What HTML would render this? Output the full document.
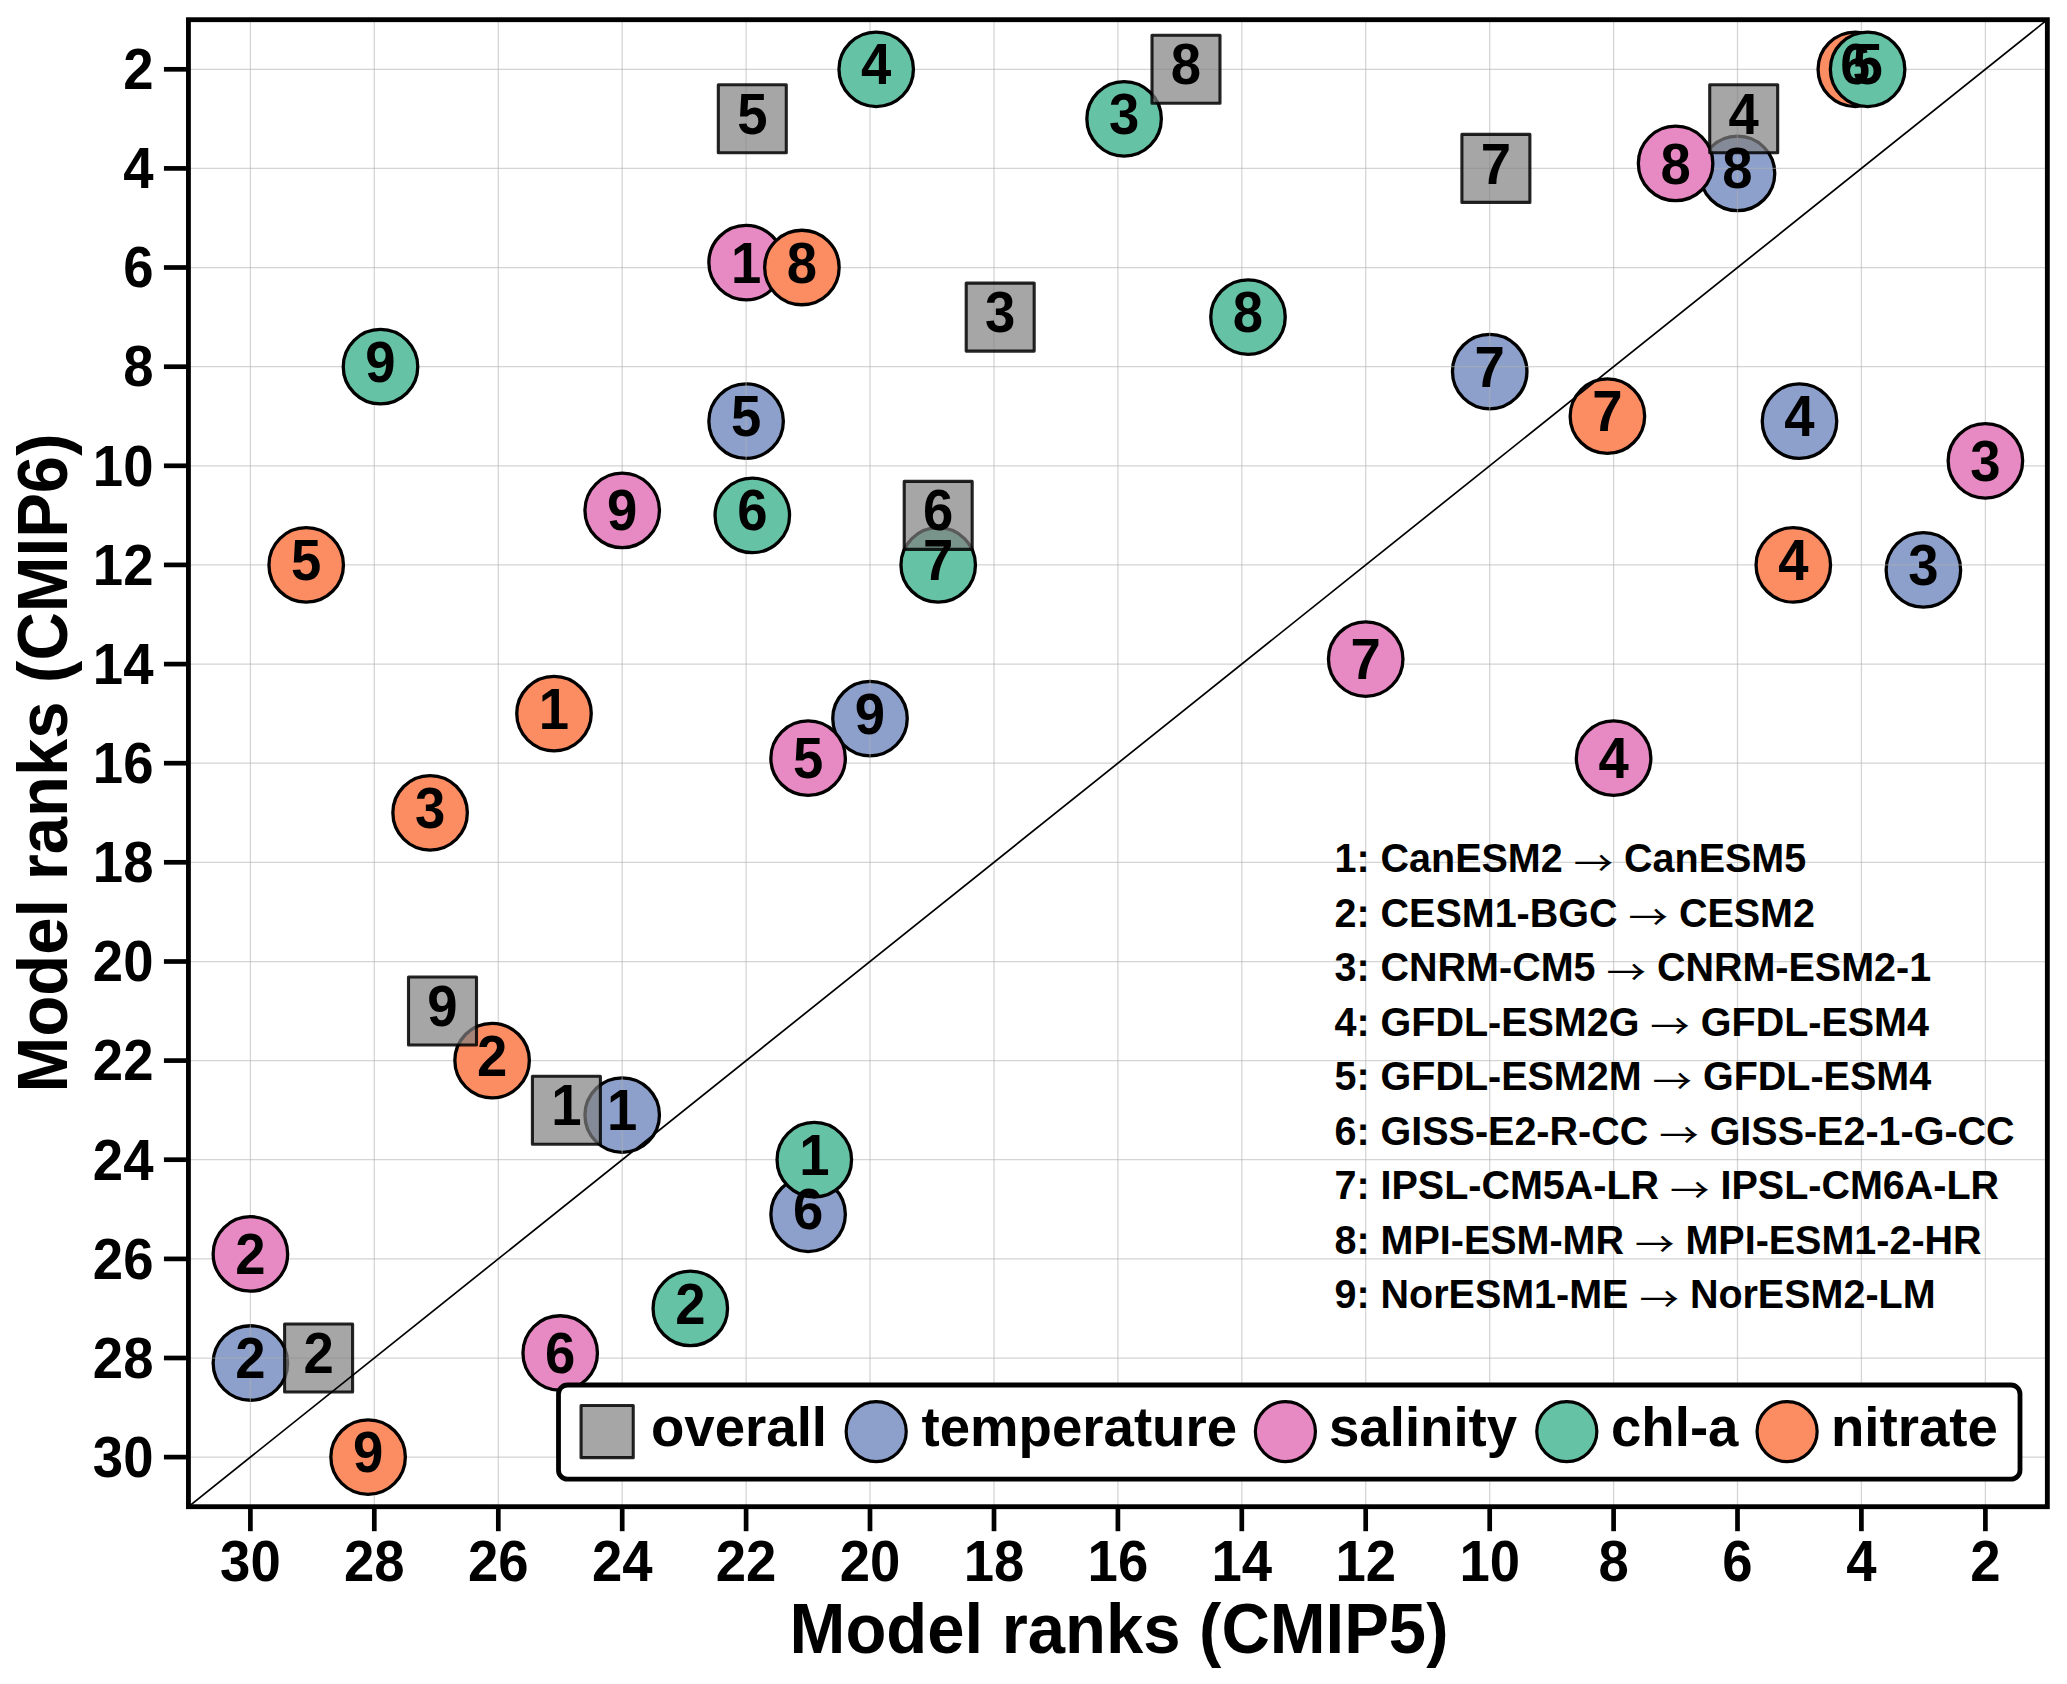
<!DOCTYPE html>
<html lang="en"><head><meta charset="utf-8"><title>Model ranks CMIP5 vs CMIP6</title>
<style>html,body{margin:0;padding:0;background:#fff;overflow:hidden}svg{display:block}text{font-family:"Liberation Sans",sans-serif;font-weight:bold;fill:#000}.m{font-size:54.5px;text-anchor:middle}.t{font-size:54.5px}.ax{font-size:67px;text-anchor:middle}.lg{font-size:54.6px}.ls{font-size:39.5px}.ar{font-family:"Noto Sans CJK SC","Noto Sans CJK JP","Noto Sans CJK TC","Noto Sans CJK KR","DejaVu Sans",sans-serif;font-weight:400;font-size:33px}</style></head><body>
<svg width="2067" height="1684" viewBox="0 0 2067 1684" role="img" aria-label="Model ranks CMIP5 versus CMIP6 scatter plot">
<rect width="2067" height="1684" fill="#fff"/>
<defs><clipPath id="cp"><rect x="188.44" y="19.7" width="1858.9" height="1487"/></clipPath></defs>
<g clip-path="url(#cp)">
<g fill="#8da0cb" stroke="#000" stroke-width="3.3">
<circle cx="1737.5" cy="173.4" r="37.25"/>
<circle cx="1489.7" cy="371.6" r="37.25"/>
<circle cx="1799.5" cy="421.2" r="37.25"/>
<circle cx="746.1" cy="421.2" r="37.25"/>
<circle cx="1923.4" cy="569.9" r="37.25"/>
<circle cx="870.0" cy="718.6" r="37.25"/>
<circle cx="622.2" cy="1115.1" r="37.25"/>
<circle cx="808.1" cy="1214.3" r="37.25"/>
<circle cx="250.4" cy="1363.0" r="37.25"/>
</g>
<g stroke="#b0b0b0" stroke-opacity="0.55" stroke-width="1.25">
<line x1="1985.4" y1="19.7" x2="1985.4" y2="1506.7"/>
<line x1="188.44" y1="69.3" x2="2047.34" y2="69.3"/>
<line x1="1861.4" y1="19.7" x2="1861.4" y2="1506.7"/>
<line x1="188.44" y1="168.4" x2="2047.34" y2="168.4"/>
<line x1="1737.5" y1="19.7" x2="1737.5" y2="1506.7"/>
<line x1="188.44" y1="267.5" x2="2047.34" y2="267.5"/>
<line x1="1613.6" y1="19.7" x2="1613.6" y2="1506.7"/>
<line x1="188.44" y1="366.7" x2="2047.34" y2="366.7"/>
<line x1="1489.7" y1="19.7" x2="1489.7" y2="1506.7"/>
<line x1="188.44" y1="465.8" x2="2047.34" y2="465.8"/>
<line x1="1365.7" y1="19.7" x2="1365.7" y2="1506.7"/>
<line x1="188.44" y1="564.9" x2="2047.34" y2="564.9"/>
<line x1="1241.8" y1="19.7" x2="1241.8" y2="1506.7"/>
<line x1="188.44" y1="664.1" x2="2047.34" y2="664.1"/>
<line x1="1117.9" y1="19.7" x2="1117.9" y2="1506.7"/>
<line x1="188.44" y1="763.2" x2="2047.34" y2="763.2"/>
<line x1="994.0" y1="19.7" x2="994.0" y2="1506.7"/>
<line x1="188.44" y1="862.3" x2="2047.34" y2="862.3"/>
<line x1="870.0" y1="19.7" x2="870.0" y2="1506.7"/>
<line x1="188.44" y1="961.5" x2="2047.34" y2="961.5"/>
<line x1="746.1" y1="19.7" x2="746.1" y2="1506.7"/>
<line x1="188.44" y1="1060.6" x2="2047.34" y2="1060.6"/>
<line x1="622.2" y1="19.7" x2="622.2" y2="1506.7"/>
<line x1="188.44" y1="1159.7" x2="2047.34" y2="1159.7"/>
<line x1="498.3" y1="19.7" x2="498.3" y2="1506.7"/>
<line x1="188.44" y1="1258.9" x2="2047.34" y2="1258.9"/>
<line x1="374.3" y1="19.7" x2="374.3" y2="1506.7"/>
<line x1="188.44" y1="1358.0" x2="2047.34" y2="1358.0"/>
<line x1="250.4" y1="19.7" x2="250.4" y2="1506.7"/>
<line x1="188.44" y1="1457.1" x2="2047.34" y2="1457.1"/>
</g>
<g fill="#e78ac3" stroke="#000" stroke-width="3.3">
<circle cx="1675.6" cy="163.4" r="37.25"/>
<circle cx="746.1" cy="262.6" r="37.25"/>
<circle cx="1985.4" cy="460.8" r="37.25"/>
<circle cx="622.2" cy="510.4" r="37.25"/>
<circle cx="1365.7" cy="659.1" r="37.25"/>
<circle cx="808.1" cy="758.2" r="37.25"/>
<circle cx="1613.6" cy="758.2" r="37.25"/>
<circle cx="250.4" cy="1253.9" r="37.25"/>
<circle cx="560.2" cy="1353.0" r="37.25"/>
</g>
<g fill="#fc8d62" stroke="#000" stroke-width="3.3">
<circle cx="1855.3" cy="69.3" r="37.25"/>
<circle cx="801.9" cy="267.5" r="37.25"/>
<circle cx="1607.4" cy="416.2" r="37.25"/>
<circle cx="306.2" cy="564.9" r="37.25"/>
<circle cx="1793.3" cy="564.9" r="37.25"/>
<circle cx="554.0" cy="713.6" r="37.25"/>
<circle cx="430.1" cy="812.8" r="37.25"/>
<circle cx="492.1" cy="1060.6" r="37.25"/>
<circle cx="368.1" cy="1457.1" r="37.25"/>
</g>
<g fill="#66c2a5" stroke="#000" stroke-width="3.3">
<circle cx="876.2" cy="69.3" r="37.25"/>
<circle cx="1124.1" cy="118.8" r="37.25"/>
<circle cx="1867.6" cy="69.3" r="37.25"/>
<circle cx="1248.0" cy="317.1" r="37.25"/>
<circle cx="380.5" cy="366.7" r="37.25"/>
<circle cx="752.3" cy="515.4" r="37.25"/>
<circle cx="938.2" cy="564.9" r="37.25"/>
<circle cx="814.3" cy="1159.7" r="37.25"/>
<circle cx="690.3" cy="1308.4" r="37.25"/>
</g>
<g fill="#808080" fill-opacity="0.7" stroke="#000" stroke-opacity="0.85" stroke-width="3.1" stroke-linejoin="round">
<rect x="718.3" y="84.8" width="68" height="68"/>
<rect x="1152.0" y="35.3" width="68" height="68"/>
<rect x="1709.7" y="84.8" width="68" height="68"/>
<rect x="1461.9" y="134.4" width="68" height="68"/>
<rect x="966.2" y="283.1" width="68" height="68"/>
<rect x="904.2" y="481.4" width="68" height="68"/>
<rect x="408.5" y="977.0" width="68" height="68"/>
<rect x="532.4" y="1076.2" width="68" height="68"/>
<rect x="284.6" y="1324.0" width="68" height="68"/>
</g>
<line x1="188.44" y1="1506.7" x2="2047.34" y2="19.7" stroke="#000" stroke-width="1.7"/>
<g class="m" transform="scale(1,1.045)">
<text x="1737.5" y="180.34">8</text>
<text x="1489.7" y="370.07">7</text>
<text x="1799.5" y="417.50">4</text>
<text x="746.1" y="417.50">5</text>
<text x="1923.4" y="559.80">3</text>
<text x="870.0" y="702.10">9</text>
<text x="622.2" y="1081.55">1</text>
<text x="808.1" y="1176.42">6</text>
<text x="250.4" y="1318.71">2</text>
</g>
<g class="m" transform="scale(1,1.045)">
<text x="1675.6" y="175.60">8</text>
<text x="746.1" y="270.46">1</text>
<text x="1985.4" y="460.19">3</text>
<text x="622.2" y="507.62">9</text>
<text x="1365.7" y="649.92">7</text>
<text x="808.1" y="744.78">5</text>
<text x="1613.6" y="744.78">4</text>
<text x="250.4" y="1219.11">2</text>
<text x="560.2" y="1313.97">6</text>
</g>
<g class="m" transform="scale(1,1.045)">
<text x="1855.3" y="80.73">6</text>
<text x="801.9" y="270.46">8</text>
<text x="1607.4" y="412.76">7</text>
<text x="306.2" y="555.06">5</text>
<text x="1793.3" y="555.06">4</text>
<text x="554.0" y="697.35">1</text>
<text x="430.1" y="792.22">3</text>
<text x="492.1" y="1029.38">2</text>
<text x="368.1" y="1408.84">9</text>
</g>
<g class="m" transform="scale(1,1.045)">
<text x="876.2" y="80.73">4</text>
<text x="1124.1" y="128.17">3</text>
<text x="1867.6" y="80.73">5</text>
<text x="1248.0" y="317.89">8</text>
<text x="380.5" y="365.33">9</text>
<text x="752.3" y="507.62">6</text>
<text x="938.2" y="555.06">7</text>
<text x="814.3" y="1124.24">1</text>
<text x="690.3" y="1266.54">2</text>
</g>
<g class="m" transform="scale(1,1.045)">
<text x="752.3" y="128.17">5</text>
<text x="1186.0" y="80.73">8</text>
<text x="1743.7" y="128.17">4</text>
<text x="1495.9" y="175.60">7</text>
<text x="1000.2" y="317.89">3</text>
<text x="938.2" y="507.62">6</text>
<text x="442.5" y="981.95">9</text>
<text x="566.4" y="1076.81">1</text>
<text x="318.6" y="1313.97">2</text>
</g>
</g>
<g class="ls" transform="scale(1,1.03)">
<text x="1334.5" y="846.89" xml:space="preserve">1: CanESM2 <tspan class="ar" dy="3.3" textLength="39.5" lengthAdjust="spacingAndGlyphs">→</tspan><tspan dy="-3.3"> CanESM5</tspan></text>
<text x="1334.5" y="899.81" xml:space="preserve">2: CESM1-BGC <tspan class="ar" dy="3.3" textLength="39.5" lengthAdjust="spacingAndGlyphs">→</tspan><tspan dy="-3.3"> CESM2</tspan></text>
<text x="1334.5" y="952.72" xml:space="preserve">3: CNRM-CM5 <tspan class="ar" dy="3.3" textLength="39.5" lengthAdjust="spacingAndGlyphs">→</tspan><tspan dy="-3.3"> CNRM-ESM2-1</tspan></text>
<text x="1334.5" y="1005.63" xml:space="preserve">4: GFDL-ESM2G <tspan class="ar" dy="3.3" textLength="39.5" lengthAdjust="spacingAndGlyphs">→</tspan><tspan dy="-3.3"> GFDL-ESM4</tspan></text>
<text x="1334.5" y="1058.54" xml:space="preserve">5: GFDL-ESM2M <tspan class="ar" dy="3.3" textLength="39.5" lengthAdjust="spacingAndGlyphs">→</tspan><tspan dy="-3.3"> GFDL-ESM4</tspan></text>
<text x="1334.5" y="1111.46" xml:space="preserve">6: GISS-E2-R-CC <tspan class="ar" dy="3.3" textLength="39.5" lengthAdjust="spacingAndGlyphs">→</tspan><tspan dy="-3.3"> GISS-E2-1-G-CC</tspan></text>
<text x="1334.5" y="1164.37" xml:space="preserve">7: IPSL-CM5A-LR <tspan class="ar" dy="3.3" textLength="39.5" lengthAdjust="spacingAndGlyphs">→</tspan><tspan dy="-3.3"> IPSL-CM6A-LR</tspan></text>
<text x="1334.5" y="1217.28" xml:space="preserve">8: MPI-ESM-MR <tspan class="ar" dy="3.3" textLength="39.5" lengthAdjust="spacingAndGlyphs">→</tspan><tspan dy="-3.3"> MPI-ESM1-2-HR</tspan></text>
<text x="1334.5" y="1270.19" xml:space="preserve">9: NorESM1-ME <tspan class="ar" dy="3.3" textLength="39.5" lengthAdjust="spacingAndGlyphs">→</tspan><tspan dy="-3.3"> NorESM2-LM</tspan></text>
</g>
<rect x="558.5" y="1385" width="1461.5" height="94.2" rx="9" ry="9" fill="#fff" stroke="#000" stroke-width="4.8"/>
<rect x="581.05" y="1405.45" width="52.2" height="52.2" fill="#808080" fill-opacity="0.7" stroke="#000" stroke-opacity="0.85" stroke-width="3.1" stroke-linejoin="round"/>
<circle cx="876.2" cy="1431.6" r="30.05" fill="#8da0cb" stroke="#000" stroke-width="3.2"/>
<circle cx="1285.4" cy="1431.6" r="30.05" fill="#e78ac3" stroke="#000" stroke-width="3.2"/>
<circle cx="1566.8" cy="1431.6" r="30.05" fill="#66c2a5" stroke="#000" stroke-width="3.2"/>
<circle cx="1787.1" cy="1431.6" r="30.05" fill="#fc8d62" stroke="#000" stroke-width="3.2"/>
<g class="lg">
<text x="651" y="1445.9">overall</text>
<text x="921.5" y="1445.9">temperature</text>
<text x="1329" y="1445.9">salinity</text>
<text x="1611" y="1445.9">chl-a</text>
<text x="1831" y="1445.9">nitrate</text>
</g>
<rect x="188.44" y="19.7" width="1858.9" height="1487" fill="none" stroke="#000" stroke-width="4.85"/>
<g stroke="#000" stroke-width="4.7">
<line x1="1985.4" y1="1506.7" x2="1985.4" y2="1531.2"/>
<line x1="163.94" y1="69.3" x2="188.44" y2="69.3"/>
<line x1="1861.4" y1="1506.7" x2="1861.4" y2="1531.2"/>
<line x1="163.94" y1="168.4" x2="188.44" y2="168.4"/>
<line x1="1737.5" y1="1506.7" x2="1737.5" y2="1531.2"/>
<line x1="163.94" y1="267.5" x2="188.44" y2="267.5"/>
<line x1="1613.6" y1="1506.7" x2="1613.6" y2="1531.2"/>
<line x1="163.94" y1="366.7" x2="188.44" y2="366.7"/>
<line x1="1489.7" y1="1506.7" x2="1489.7" y2="1531.2"/>
<line x1="163.94" y1="465.8" x2="188.44" y2="465.8"/>
<line x1="1365.7" y1="1506.7" x2="1365.7" y2="1531.2"/>
<line x1="163.94" y1="564.9" x2="188.44" y2="564.9"/>
<line x1="1241.8" y1="1506.7" x2="1241.8" y2="1531.2"/>
<line x1="163.94" y1="664.1" x2="188.44" y2="664.1"/>
<line x1="1117.9" y1="1506.7" x2="1117.9" y2="1531.2"/>
<line x1="163.94" y1="763.2" x2="188.44" y2="763.2"/>
<line x1="994.0" y1="1506.7" x2="994.0" y2="1531.2"/>
<line x1="163.94" y1="862.3" x2="188.44" y2="862.3"/>
<line x1="870.0" y1="1506.7" x2="870.0" y2="1531.2"/>
<line x1="163.94" y1="961.5" x2="188.44" y2="961.5"/>
<line x1="746.1" y1="1506.7" x2="746.1" y2="1531.2"/>
<line x1="163.94" y1="1060.6" x2="188.44" y2="1060.6"/>
<line x1="622.2" y1="1506.7" x2="622.2" y2="1531.2"/>
<line x1="163.94" y1="1159.7" x2="188.44" y2="1159.7"/>
<line x1="498.3" y1="1506.7" x2="498.3" y2="1531.2"/>
<line x1="163.94" y1="1258.9" x2="188.44" y2="1258.9"/>
<line x1="374.3" y1="1506.7" x2="374.3" y2="1531.2"/>
<line x1="163.94" y1="1358.0" x2="188.44" y2="1358.0"/>
<line x1="250.4" y1="1506.7" x2="250.4" y2="1531.2"/>
<line x1="163.94" y1="1457.1" x2="188.44" y2="1457.1"/>
</g>
<g class="t" text-anchor="middle" transform="scale(1,1.04)">
<text x="1985.4" y="1520.19">2</text>
<text x="1861.4" y="1520.19">4</text>
<text x="1737.5" y="1520.19">6</text>
<text x="1613.6" y="1520.19">8</text>
<text x="1489.7" y="1520.19">10</text>
<text x="1365.7" y="1520.19">12</text>
<text x="1241.8" y="1520.19">14</text>
<text x="1117.9" y="1520.19">16</text>
<text x="994.0" y="1520.19">18</text>
<text x="870.0" y="1520.19">20</text>
<text x="746.1" y="1520.19">22</text>
<text x="622.2" y="1520.19">24</text>
<text x="498.3" y="1520.19">26</text>
<text x="374.3" y="1520.19">28</text>
<text x="250.4" y="1520.19">30</text>
</g>
<g class="t" text-anchor="end" transform="scale(1,1.04)">
<text x="153.5" y="85.64">2</text>
<text x="153.5" y="180.96">4</text>
<text x="153.5" y="276.28">6</text>
<text x="153.5" y="371.60">8</text>
<text x="153.5" y="466.92">10</text>
<text x="153.5" y="562.24">12</text>
<text x="153.5" y="657.56">14</text>
<text x="153.5" y="752.88">16</text>
<text x="153.5" y="848.21">18</text>
<text x="153.5" y="943.53">20</text>
<text x="153.5" y="1038.85">22</text>
<text x="153.5" y="1134.17">24</text>
<text x="153.5" y="1229.49">26</text>
<text x="153.5" y="1324.81">28</text>
<text x="153.5" y="1420.13">30</text>
</g>
<text class="ax" transform="translate(1119,1652.9) scale(1,1.05)">Model ranks (CMIP5)</text>
<text class="ax" transform="translate(66.6,763) rotate(-90) scale(1,1.05)">Model ranks (CMIP6)</text>
</svg></body></html>
